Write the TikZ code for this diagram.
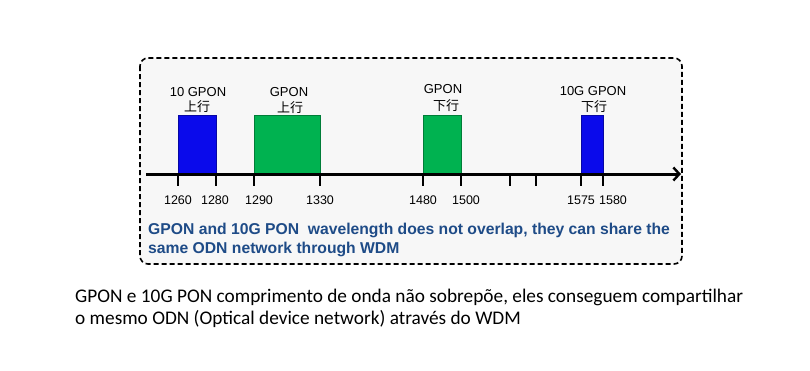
\documentclass[tikz,border=0pt]{standalone}
\usepackage{fontspec}
\setmainfont{Liberation Sans}
\newfontfamily\cjk{Noto Sans CJK SC}
\newfontfamily\calfont{Carlito}
\usetikzlibrary{arrows.meta}
\definecolor{barblue}{RGB}{10,10,235}
\definecolor{bargreen}{RGB}{0,178,80}
\definecolor{txtblue}{RGB}{30,75,135}
\definecolor{panelgray}{RGB}{247,247,247}
\begin{document}
\begin{tikzpicture}[x=1pt,y=-1pt,
  bar/.style={draw=#1!70!black, line width=0.6pt, fill=#1, minimum height=58pt, inner sep=0pt, anchor=south west},
  tick/.style={line width=2pt},
  num/.style={font=\fontsize{12.5}{14}\selectfont, inner sep=0pt},
  toplab/.style={font=\fontsize{13}{15}\selectfont, inner sep=0pt},
  cjklab/.style={font=\cjk\fontsize{13}{15}\selectfont, inner sep=0pt},
  note/.style={font=\bfseries\fontsize{15.7}{18}\selectfont, text=txtblue, inner sep=0pt, anchor=west},
  caption/.style={font=\calfont\fontsize{19.3}{22}\selectfont, inner sep=0pt, anchor=west}]
\useasboundingbox (0,0) rectangle (810,370);
\fill[white] (0,0) rectangle (810,370);
% panel
\draw[fill=panelgray, dashed, dash pattern=on 5pt off 3pt, line width=1.6pt, rounded corners=8pt] (140,58) rectangle (682,264);
% bars
\node[bar=barblue, minimum width=38pt] (b1) at (178,174) {};
\node[bar=bargreen, minimum width=66pt] (g1) at (254,174) {};
\node[bar=bargreen, minimum width=38pt] (g2) at (423,174) {};
\node[bar=barblue, minimum width=22pt] (b2) at (581,174) {};
% axis
\coordinate (axs) at (146,174);
\coordinate (axe) at (681,174);
\draw[line width=3pt, -{Straight Barb[length=6pt,width=13pt,line width=2.4pt]}] (axs) -- (axe);
% ticks
\foreach \x in {178,216,254,320,423,461,510,536,581,603}{
  \draw[tick] (\x,174) -- (\x,186);
}
% numbers
\node[num] (n1260) at (178,200) {1260};
\node[num] (n1280) at (215,200) {1280};
\node[num] (n1290) at (259,200) {1290};
\node[num] (n1330) at (320,200) {1330};
\node[num] (n1480) at (423,200) {1480};
\node[num] (n1500) at (466,200) {1500};
\node[num] (n1575) at (581,200) {1575};
\node[num] (n1580) at (613,200) {1580};
% top labels
\node[toplab] (t1a) at (198,92) {10 GPON};
\node[cjklab] (t1b) at (197,107) {上行};
\node[toplab] (t2a) at (289,92) {GPON};
\node[cjklab] (t2b) at (290,108) {上行};
\node[toplab] (t3a) at (443,89) {GPON};
\node[cjklab] (t3b) at (446,106) {下行};
\node[toplab] (t4a) at (593,91) {10G GPON};
\node[cjklab] (t4b) at (594,107) {下行};
% blue note
\node[note] (note1) at (148,230) {GPON and 10G PON\ \ wavelength does not overlap, they can share the};
\node[note] (note2) at (148,249) {same ODN network through WDM};
% caption
\node[caption] (cap1) at (75,297) {GPON e 10G PON comprimento de onda não sobrepõe, eles conseguem compartilhar};
\node[caption] (cap2) at (75,319) {o mesmo ODN (Optical device network) através do WDM};
\end{tikzpicture}
\end{document}
